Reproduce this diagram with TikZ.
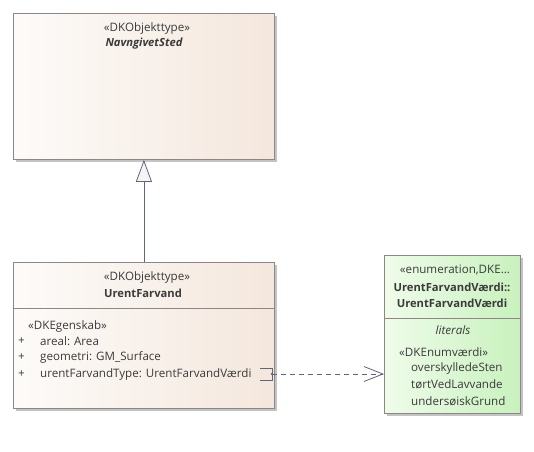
\documentclass[tikz,border=0pt]{standalone}
\usepackage{fontspec}
\setmainfont{Open Sans}
\usetikzlibrary{arrows.meta, calc, positioning}

\definecolor{boxline}{HTML}{8E8585}
\definecolor{connline}{HTML}{62647C}
\definecolor{txtcol}{HTML}{3A3A3A}
\definecolor{objleft}{HTML}{FDFBF9}
\definecolor{objright}{HTML}{F4E7DD}
\definecolor{enumleft}{HTML}{EFFCEA}
\definecolor{enumright}{HTML}{C8F1BD}
\definecolor{shadowcol}{HTML}{C4C4C4}

\tikzset{
  objbox/.style={draw=boxline, line width=0.8pt, left color=objleft, right color=objright,
    anchor=north west, inner sep=0pt},
  enumbox/.style={draw=boxline, line width=0.8pt, left color=enumleft, right color=enumright,
    anchor=north west, inner sep=0pt},
  boxshadow/.style={fill=shadowcol, draw=none, anchor=north west, inner sep=0pt},
  lbl/.style={font=\fontsize{11.6}{14}\selectfont, text=txtcol, inner sep=0pt},
  attr/.style={lbl, anchor=west},
}

\begin{document}
\begin{tikzpicture}[x=1pt, y=-1pt]
\useasboundingbox (0,0) rectangle (534,451);

% NavngivetSted
\node[boxshadow, minimum width=261pt, minimum height=146pt] at (15.5,15.5) {};
\node[objbox, minimum width=261pt, minimum height=146pt] (navn) at (13,13) {};
\node[lbl] (navnstereo) at (147,28) {«DKObjekttype»};
\node[lbl, font=\fontsize{11.2}{14}\selectfont\bfseries\itshape] (navnname) at (144,44) {NavngivetSted};

% UrentFarvand
\node[boxshadow, minimum width=261pt, minimum height=146pt] at (15.5,264.5) {};
\node[objbox, minimum width=261pt, minimum height=146pt] (urent) at (13,262) {};
\draw[boxline, line width=0.8pt] (13,308) -- (274,308);
\node[lbl] (urentstereo) at (147,277) {«DKObjekttype»};
\node[lbl, font=\fontsize{11.2}{14}\selectfont\bfseries] (urentname) at (143,293) {UrentFarvand};
\node[attr] (egenskab) at (28,326) {«DKEgenskab»};
\foreach \y/\t in {341/{areal: Area}, 357/{geometri: GM\_Surface}, 374/{urentFarvandType: UrentFarvandVærdi}} {
  \node[attr] at (18,\y) {+};
  \node[attr] at (40,\y) {\t};
}

% UrentFarvandVaerdi
\node[boxshadow, minimum width=136pt, minimum height=158pt] at (386.5,257.5) {};
\node[enumbox, minimum width=136pt, minimum height=158pt] (vaerdi) at (384,255) {};
\draw[boxline, line width=0.8pt] (384,318) -- (520,318);
\node[lbl] (enumstereo) at (455,270) {«enumeration,DKE...};
\node[lbl, font=\fontsize{11.2}{14}\selectfont\bfseries] (enumname1) at (452,287) {UrentFarvandVærdi::};
\node[lbl, font=\fontsize{11.2}{14}\selectfont\bfseries] (enumname2) at (452,303) {UrentFarvandVærdi};
\node[lbl, font=\fontsize{11.6}{14}\selectfont\itshape] (literals) at (453,330) {literals};
\node[attr] (enumvaerdi) at (399,352) {«DKEnumværdi»};
\foreach \y/\t in {368/overskylledeSten, 384/tørtVedLavvande, 401/undersøiskGrund} {
  \node[attr] at (411,\y) {\t};
}

% generalization
\draw[connline, line width=0.8pt, -{Triangle[length=22pt, width=16pt, fill=gray!8]}]
  (urent.north -| navn.south) -- (navn.south);

% dependency from attribute
\coordinate (attrend) at (272,374);
\draw[connline, line width=0.8pt] (260,368) -- (272,368) -- (272,380) -- (260,380);
\fill[connline] (attrend) circle (1.3pt);
\draw[connline, line width=0.8pt, dash pattern=on 5pt off 4pt, -{Straight Barb[length=19pt, width=15pt]}]
  (attrend) -- (attrend -| vaerdi.west);
\end{tikzpicture}
\end{document}
